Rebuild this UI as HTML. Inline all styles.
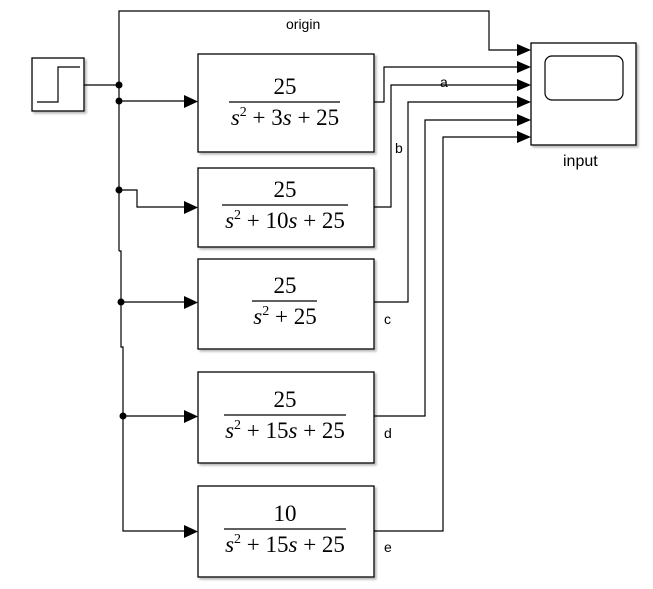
<!DOCTYPE html>
<html><head><style>
body{margin:0;background:#fff;}
svg text{font-family:"Liberation Serif",serif;}
.l{font-family:"Liberation Sans",sans-serif;font-size:14px;}
</style></head><body>
<svg width="653" height="584" viewBox="0 0 653 584" xmlns="http://www.w3.org/2000/svg">
<defs>
<filter id="sh" x="-5%" y="-5%" width="115%" height="115%"><feDropShadow dx="2" dy="2" stdDeviation="1" flood-color="#888" flood-opacity="0.6"/></filter>
</defs>
<g fill="#fff" stroke="#000" stroke-width="1.3" filter="url(#sh)">
<rect x="32" y="58" width="52" height="53"/>
<rect x="198" y="54" width="176" height="98"/>
<rect x="198" y="168" width="176" height="79"/>
<rect x="198" y="259" width="176" height="90"/>
<rect x="198" y="372" width="176" height="91"/>
<rect x="198" y="486" width="176" height="91"/>
<rect x="531" y="43" width="105" height="102"/>
</g>
<rect x="545" y="56" width="78" height="44" rx="7" fill="none" stroke="#000" stroke-width="1.2"/>
<polyline points="37,102 58,102 58,67 80,67" fill="none" stroke="#000" stroke-width="1.2"/>
<g fill="none" stroke="#000" stroke-width="1.2">
<polyline points="84,85 119,85"/>
<polyline points="119,251 119,11 489,11 489,50 520,50"/>
<polyline points="119,251 121,251 121,347 123,347 123,531 186,531"/>
<polyline points="119,101 186,101"/>
<polyline points="119,190 137,190 137,207 186,207"/>
<polyline points="121,302 186,302"/>
<polyline points="123,416 186,416"/>
<polyline points="374,102 384,102 384,67 520,67"/>
<polyline points="374,207 391,207 391,85 520,85"/>
<polyline points="374,302 408,302 408,102 520,102"/>
<polyline points="374,416 425,416 425,120 520,120"/>
<polyline points="374,531 443,531 443,137 520,137"/>
</g>
<g fill="#000">
<circle cx="119" cy="85" r="3.5"/><circle cx="119" cy="101" r="3.5"/><circle cx="119" cy="190" r="3.5"/><circle cx="121" cy="302" r="3.5"/><circle cx="123" cy="416" r="3.5"/>
<polygon points="184,95 198,101.5 184,108"/>
<polygon points="184,201 198,207.5 184,214"/>
<polygon points="184,296 198,302.5 184,309"/>
<polygon points="184,410 198,416.5 184,423"/>
<polygon points="184,525 198,531.5 184,538"/>
<polygon points="517,44 531,50 517,56"/>
<polygon points="517,61 531,67 517,73"/>
<polygon points="517,79 531,85 517,91"/>
<polygon points="517,96 531,102 517,108"/>
<polygon points="517,114 531,120 517,126"/>
<polygon points="517,131 531,137 517,143"/>
</g>
<g stroke="#000" stroke-width="1.3">
<line x1="229" y1="102" x2="340" y2="102"/>
<line x1="222" y1="205" x2="348" y2="205"/>
<line x1="252" y1="301" x2="317" y2="301"/>
<line x1="224" y1="415" x2="346" y2="415"/>
<line x1="224" y1="529" x2="346" y2="529"/>
</g>
<g font-size="23" text-anchor="middle">
<text x="285" y="94">25</text>
<text x="285" y="125"><tspan font-style="italic">s</tspan><tspan font-size="14" dy="-9">2</tspan><tspan dy="9"> + 3</tspan><tspan font-style="italic">s</tspan> + 25</text>
<text x="285" y="197">25</text>
<text x="285" y="228"><tspan font-style="italic">s</tspan><tspan font-size="14" dy="-9">2</tspan><tspan dy="9"> + 10</tspan><tspan font-style="italic">s</tspan> + 25</text>
<text x="285" y="293">25</text>
<text x="285" y="324"><tspan font-style="italic">s</tspan><tspan font-size="14" dy="-9">2</tspan><tspan dy="9"> + 25</tspan></text>
<text x="285" y="407">25</text>
<text x="285" y="438"><tspan font-style="italic">s</tspan><tspan font-size="14" dy="-9">2</tspan><tspan dy="9"> + 15</tspan><tspan font-style="italic">s</tspan> + 25</text>
<text x="285" y="521">10</text>
<text x="285" y="552"><tspan font-style="italic">s</tspan><tspan font-size="14" dy="-9">2</tspan><tspan dy="9"> + 15</tspan><tspan font-style="italic">s</tspan> + 25</text>
</g>
<text x="286" y="29" class="l">origin</text>
<text x="440" y="87" class="l">a</text>
<text x="395" y="153" class="l">b</text>
<text x="384" y="324" class="l">c</text>
<text x="384" y="438" class="l">d</text>
<text x="384" y="552" class="l">e</text>
<text x="563" y="166" class="l" style="font-size:16px">input</text>
</svg>
</body></html>
